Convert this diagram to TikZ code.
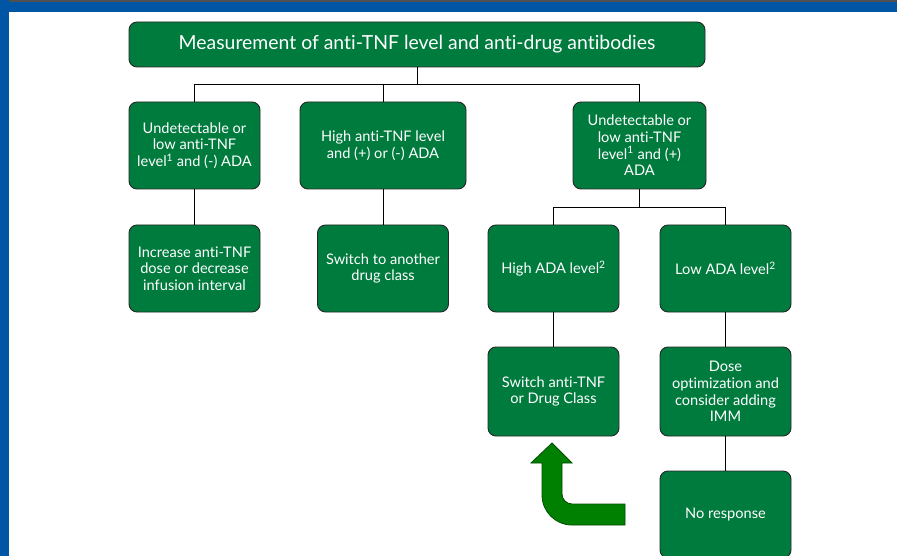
\documentclass[tikz,border=0pt]{standalone}
\usepackage{fontspec}
\setmainfont[Ligatures={NoCommon}]{Lato}
\definecolor{boxgreen}{RGB}{0,123,62}
\definecolor{arrowgreen}{RGB}{0,128,0}
\definecolor{frameblue}{RGB}{0,86,164}
\definecolor{framegray}{RGB}{80,80,80}
\begin{document}
\begin{tikzpicture}[x=1pt,y=-1pt,
  gbox/.style={draw=black!85,line width=0.9pt,fill=boxgreen,rounded corners=8pt,
    text=white,align=center,minimum height=87pt,inner sep=1pt,
    font=\fontsize{14.6}{16.6}\selectfont},
  link/.style={draw=black,line width=0.9pt}]
\useasboundingbox (0,0) rectangle (897,556);
\clip (0,0) rectangle (897,556);
% frame
\fill[frameblue] (0,0) rectangle (897,12);
\fill[framegray] (0,0) rectangle (897,2);
\fill[frameblue] (0,0) rectangle (9,556);
% nodes
\node[gbox,minimum width=576pt,minimum height=45pt,font=\fontsize{19.4}{22}\selectfont] (top) at (417,44.5)
  {Measurement of anti-TNF level and anti-drug antibodies};
\node[gbox,minimum width=131pt] (A1) at (194.5,145.5) {Undetectable or\\low anti-TNF\\level\textsuperscript{1} and (-) ADA};
\node[gbox,minimum width=166pt] (B1) at (383,145.5) {High anti-TNF level\\and (+) or (-) ADA};
\node[gbox,minimum width=133pt] (C1) at (639.5,145.5) {Undetectable or\\low anti-TNF\\level\textsuperscript{1} and (+)\\ADA};
\node[gbox,minimum width=131pt] (A2) at (194.5,268.5) {Increase anti-TNF\\dose or decrease\\infusion interval};
\node[gbox,minimum width=131pt] (B2) at (383,268.5) {Switch to another\\drug class};
\node[gbox,minimum width=131pt] (C2L) at (553.5,268.5) {High ADA level\textsuperscript{2}};
\node[gbox,minimum width=131pt] (C2R) at (725.5,268.5) {Low ADA level\textsuperscript{2}};
\node[gbox,minimum width=131pt,minimum height=89pt] (C3L) at (553.5,391.5) {Switch anti-TNF\\or Drug Class};
\node[gbox,minimum width=131pt,minimum height=89pt] (C3R) at (725.5,391.5) {Dose\\optimization and\\consider adding\\IMM};
\node[gbox,minimum width=131pt] (C4R) at (725.5,514.5) {No response};
% connectors
\coordinate (bus) at (417,84);
\coordinate (bus2) at (639.5,207);
\draw[link] (top.south) -- (bus);
\draw[link] (A1.north) |- (bus);
\draw[link] (B1.north) |- (bus);
\draw[link] (C1.north) |- (bus);
\draw[link] (A1.south) -- (A2.north);
\draw[link] (B1.south) -- (B2.north);
\draw[link] (C1.south) -- (bus2);
\draw[link] (C2L.north) |- (bus2);
\draw[link] (C2R.north) |- (bus2);
\draw[link] (C2L.south) -- (C3L.north);
\draw[link] (C2R.south) -- (C3R.north);
\draw[link] (C3R.south) -- (C4R.north);
% bent arrow
\draw[fill=arrowgreen,draw=black!70!green,line width=0.8pt]
  (552,443) -- (572,463) -- (562,463) -- (562,494)
  .. controls (562,499.5) and (566.5,504) .. (572,504)
  -- (625,504) -- (625,525) -- (572,525)
  .. controls (555.4,525) and (542,511.6) .. (542,495)
  -- (542,463) -- (531,463) -- cycle;
\end{tikzpicture}
\end{document}
